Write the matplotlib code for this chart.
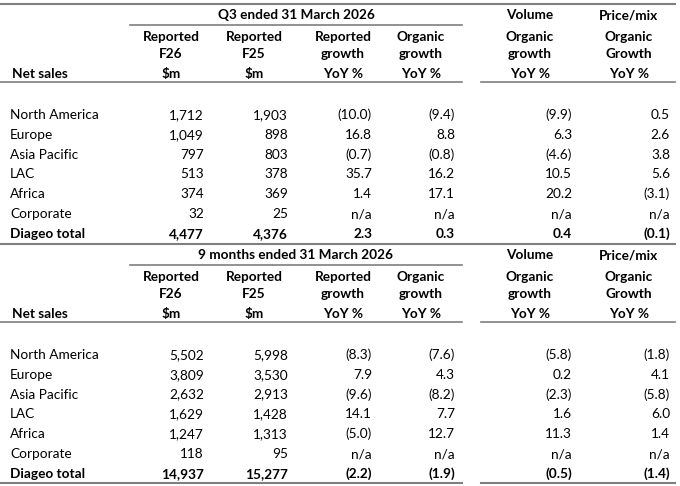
import matplotlib
matplotlib.use('Agg')
import matplotlib.pyplot as plt

plt.rcParams['font.family'] = ['Lato', 'DejaVu Sans']

# dados das tabelas
regioes = ['North America', 'Europe', 'Asia Pacific', 'LAC', 'Africa', 'Corporate', 'Diageo total']

q3_f26 = ['1,712', '1,049', '797', '513', '374', '32', '4,477']
q3_f25 = ['1,903', '898', '803', '378', '369', '25', '4,376']
q3_rep = ['(10.0)', '16.8', '(0.7)', '35.7', '1.4', 'n/a', '2.3']
q3_org = ['(9.4)', '8.8', '(0.8)', '16.2', '17.1', 'n/a', '0.3']
q3_vol = ['(9.9)', '6.3', '(4.6)', '10.5', '20.2', 'n/a', '0.4']
q3_pm = ['0.5', '2.6', '3.8', '5.6', '(3.1)', 'n/a', '(0.1)']

m9_f26 = ['5,502', '3,809', '2,632', '1,629', '1,247', '118', '14,937']
m9_f25 = ['5,998', '3,530', '2,913', '1,428', '1,313', '95', '15,277']
m9_rep = ['(8.3)', '7.9', '(9.6)', '14.1', '(5.0)', 'n/a', '(2.2)']
m9_org = ['(7.6)', '4.3', '(8.2)', '7.7', '12.7', 'n/a', '(1.9)']
m9_vol = ['(5.8)', '0.2', '(2.3)', '1.6', '11.3', 'n/a', '(0.5)']
m9_pm = ['(1.8)', '4.1', '(5.8)', '6.0', '1.4', 'n/a', '(1.4)']

titulos = ['Q3 ended 31 March 2026', '9 months ended 31 March 2026']
cabecalhos = [('Reported', 'F26', '$m'), ('Reported', 'F25', '$m'),
              ('Reported', 'growth', 'YoY %'), ('Organic', 'growth', 'YoY %'),
              ('Organic', 'growth', 'YoY %'), ('Organic', 'Growth', 'YoY %')]
grupos = ['Volume', 'Price/mix']

fig = plt.figure(figsize=(6.8, 4.86), dpi=100)
ax = fig.add_axes([0, 0, 1, 1])
ax.set_xlim(0, 680)
ax.set_ylim(486, 0)
ax.axis('off')

fs = 9.8
cor_linha = '#7f7f7f'
x_dir = [204, 288, 372, 455, 572, 670]
x_cen = [171, 254, 343, 421, 530, 629]


def secao(y0, titulo, colunas):
    ax.text(296, y0 + 11, titulo, ha='center', va='center', fontsize=fs, fontweight='bold')
    ax.plot([130, 462], [y0 + 21, y0 + 21], color=cor_linha, lw=1.2)
    ax.text(x_cen[4], y0 + 11, grupos[0], ha='center', va='center', fontsize=fs, fontweight='bold')
    ax.text(x_cen[5], y0 + 11, grupos[1], ha='center', va='center', fontsize=fs, fontweight='bold')
    for xc, cab in zip(x_cen, cabecalhos):
        ax.text(xc, y0 + 33, cab[0], ha='center', va='center', fontsize=fs, fontweight='bold')
        ax.text(xc, y0 + 50, cab[1], ha='center', va='center', fontsize=fs, fontweight='bold')
        ax.text(xc, y0 + 70, cab[2], ha='center', va='center', fontsize=fs, fontweight='bold')
    ax.text(12, y0 + 70, 'Net sales', ha='left', va='center', fontsize=fs, fontweight='bold')
    ax.plot([0, 462], [y0 + 78, y0 + 78], color=cor_linha, lw=1.2)
    ax.plot([481, 675], [y0 + 78, y0 + 78], color=cor_linha, lw=1.2)
    for i, reg in enumerate(regioes):
        y = y0 + 111 + i * 19.8
        peso = 'bold' if i == len(regioes) - 1 else 'normal'
        ax.text(10, y, reg, ha='left', va='center', fontsize=fs, fontweight=peso)
        for xr, col in zip(x_dir, colunas):
            ax.text(xr, y, col[i], ha='right', va='center', fontsize=fs, fontweight=peso)


ax.plot([0, 675], [4, 4], color=cor_linha, lw=1.5)
secao(4, titulos[0], [q3_f26, q3_f25, q3_rep, q3_org, q3_vol, q3_pm])
ax.plot([0, 675], [244, 244], color=cor_linha, lw=1.5)
secao(244, titulos[1], [m9_f26, m9_f25, m9_rep, m9_org, m9_vol, m9_pm])
ax.plot([0, 462], [483, 483], color=cor_linha, lw=1.5)
ax.plot([481, 675], [483, 483], color=cor_linha, lw=1.5)

fig.savefig('out.png', dpi=100, facecolor='white')
